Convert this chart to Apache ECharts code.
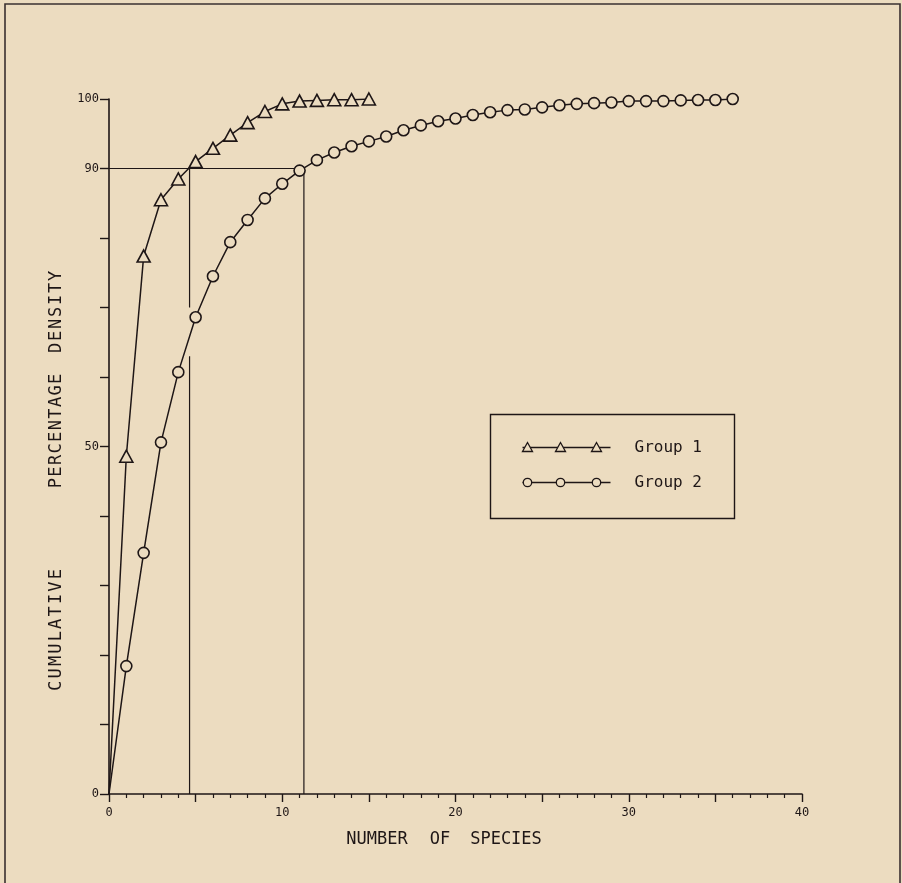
<!DOCTYPE html>
<html lang="en">

<head>
    <meta charset="UTF-8" />
    <title>Cumulative percentage density</title>
    <style>
        html, body {
            margin: 0;
            padding: 0;
            background: #ecdcc0;
        }

        #chart {
            width: 902px;
            height: 883px;
        }
    </style>
</head>

<body>
    <div id="chart"></div>

    <script src="https://cdn.jsdelivr.net/npm/echarts@6/dist/echarts.min.js"></script>
    <script>
        // data
        const group1X = [0, 1, 2, 3, 4, 5, 6, 7, 8, 9, 10, 11, 12, 13, 14, 15]
        const group1Y = [0, 48.6, 77.4, 85.5, 88.5, 91.0, 92.9, 94.8, 96.6, 98.2, 99.3, 99.7, 99.8, 99.9, 99.9, 100]

        const group2X = [0, 1, 2, 3, 4, 5, 6, 7, 8, 9, 10, 11, 12, 13, 14, 15, 16, 17, 18,
            19, 20, 21, 22, 23, 24, 25, 26, 27, 28, 29, 30, 31, 32, 33, 34, 35, 36]
        const group2Y = [0, 18.4, 34.7, 50.6, 60.7, 68.6, 74.5, 79.4, 82.6, 85.7, 87.8, 89.7,
            91.2, 92.3, 93.2, 93.9, 94.6, 95.5, 96.2, 96.8, 97.2, 97.7, 98.1, 98.4, 98.5,
            98.8, 99.1, 99.3, 99.4, 99.5, 99.7, 99.7, 99.7, 99.8, 99.85, 99.85, 100]

        // 90% guide lines
        const level90 = 90
        const cut1 = 4.65
        const cut2 = 11.25

        const yLabels = [0, 50, 90, 100]
        const xLabels = [0, 10, 20, 30, 40]

        const ink = '#1e1616'
        const paper = '#ecdcc0'
        const font = '"DejaVu Sans Mono", monospace'

        // first point (origin) is drawn without a marker
        const pairs = (xs, ys) => xs.map((x, i) => i === 0
            ? { value: [x, ys[i]], symbol: 'none' }
            : [x, ys[i]])

        const guide = (data) => ({
            type: 'line',
            data: data,
            symbol: 'none',
            silent: true,
            lineStyle: { color: ink, width: 1.2 },
            z: 1
        })

        // rotated title, letters spread evenly between two y positions
        const spacedWord = (word, x, yBottom, yTop) => {
            const pitch = (yBottom - yTop) / word.length
            return word.split('').map((ch, i) => ({
                type: 'text',
                x: x,
                y: yBottom - pitch * (i + 0.5),
                rotation: Math.PI / 2,
                style: {
                    text: ch,
                    font: '17px ' + font,
                    fill: ink,
                    align: 'center',
                    verticalAlign: 'middle'
                }
            }))
        }

        const word = (text, x, y) => ({
            type: 'text',
            x: x,
            y: y,
            style: {
                text: text,
                font: '17px ' + font,
                fill: ink,
                align: 'center',
                verticalAlign: 'middle'
            }
        })

        const chart = echarts.init(document.getElementById('chart'))

        const option = {
            backgroundColor: paper,
            animation: false,
            grid: { left: 109, right: 100, top: 99, bottom: 89 },
            xAxis: {
                type: 'value',
                min: 0,
                max: 40,
                interval: 5,
                axisLine: { lineStyle: { color: ink, width: 1.6 } },
                axisTick: { show: true, length: 8, lineStyle: { color: ink, width: 1.4 } },
                minorTick: { show: true, splitNumber: 5, length: 4, lineStyle: { color: ink, width: 1.2 } },
                splitLine: { show: false },
                axisLabel: {
                    margin: 13,
                    color: ink,
                    fontFamily: font,
                    fontSize: 12,
                    formatter: v => xLabels.includes(v) ? String(v) : ''
                }
            },
            yAxis: {
                type: 'value',
                min: 0,
                max: 100,
                interval: 10,
                axisLine: { show: true, lineStyle: { color: ink, width: 1.6 } },
                axisTick: { show: true, length: 9, lineStyle: { color: ink, width: 1.4 } },
                splitLine: { show: false },
                axisLabel: {
                    margin: 10,
                    color: ink,
                    fontFamily: font,
                    fontSize: 12,
                    formatter: v => yLabels.includes(v) ? String(v) : ''
                }
            },
            series: [
                guide([[0, level90], [cut2, level90]]),
                guide([[cut1, 0], [cut1, 63]]),
                guide([[cut1, 70], [cut1, level90]]),
                guide([[cut2, 0], [cut2, level90]]),
                {
                    name: 'Group 1',
                    type: 'line',
                    data: pairs(group1X, group1Y),
                    symbol: 'triangle',
                    symbolSize: [13, 12],
                    showAllSymbol: true,
                    lineStyle: { color: ink, width: 1.5 },
                    itemStyle: { color: paper, borderColor: ink, borderWidth: 1.6 },
                    z: 3
                },
                {
                    name: 'Group 2',
                    type: 'line',
                    data: pairs(group2X, group2Y),
                    symbol: 'circle',
                    symbolSize: 11,
                    showAllSymbol: true,
                    lineStyle: { color: ink, width: 1.5 },
                    itemStyle: { color: paper, borderColor: ink, borderWidth: 1.6 },
                    z: 3
                }
            ],
            graphic: [
                // outer frame
                {
                    type: 'rect',
                    shape: { x: 5, y: 4, width: 895, height: 900 },
                    style: { fill: null, stroke: '#3a3030', lineWidth: 1.6 },
                    silent: true
                },
                // x axis title
                word('NUMBER', 377, 840),
                word('OF', 440, 840),
                word('SPECIES', 506, 840),
                // y axis title
                ...spacedWord('CUMULATIVE', 57, 692, 568),
                ...spacedWord('PERCENTAGE', 57, 489, 373),
                ...spacedWord('DENSITY', 57, 354, 270),
                // legend box
                {
                    type: 'group',
                    left: 488,
                    top: 412,
                    children: [
                        {
                            type: 'rect',
                            shape: { x: 0, y: 0, width: 244, height: 104 },
                            style: { fill: null, stroke: ink, lineWidth: 1.4 }
                        },
                        {
                            type: 'line',
                            shape: { x1: 32, y1: 33, x2: 120, y2: 33 },
                            style: { stroke: ink, lineWidth: 1.3 }
                        },
                        {
                            type: 'polygon',
                            shape: { points: [[37, 28], [32, 37], [42, 37]] },
                            style: { fill: paper, stroke: ink, lineWidth: 1.3 }
                        },
                        {
                            type: 'polygon',
                            shape: { points: [[70, 28], [65, 37], [75, 37]] },
                            style: { fill: paper, stroke: ink, lineWidth: 1.3 }
                        },
                        {
                            type: 'polygon',
                            shape: { points: [[106, 28], [101, 37], [111, 37]] },
                            style: { fill: paper, stroke: ink, lineWidth: 1.3 }
                        },
                        {
                            type: 'text',
                            x: 144,
                            y: 33,
                            style: { text: 'Group 1', font: '16px ' + font, fill: ink, verticalAlign: 'middle' }
                        },
                        {
                            type: 'line',
                            shape: { x1: 32, y1: 68, x2: 120, y2: 68 },
                            style: { stroke: ink, lineWidth: 1.3 }
                        },
                        {
                            type: 'circle',
                            shape: { cx: 37, cy: 68, r: 4.2 },
                            style: { fill: paper, stroke: ink, lineWidth: 1.3 }
                        },
                        {
                            type: 'circle',
                            shape: { cx: 70, cy: 68, r: 4.2 },
                            style: { fill: paper, stroke: ink, lineWidth: 1.3 }
                        },
                        {
                            type: 'circle',
                            shape: { cx: 106, cy: 68, r: 4.2 },
                            style: { fill: paper, stroke: ink, lineWidth: 1.3 }
                        },
                        {
                            type: 'text',
                            x: 144,
                            y: 68,
                            style: { text: 'Group 2', font: '16px ' + font, fill: ink, verticalAlign: 'middle' }
                        }
                    ]
                }
            ]
        }

        chart.setOption(option)
    </script>
</body>

</html>
